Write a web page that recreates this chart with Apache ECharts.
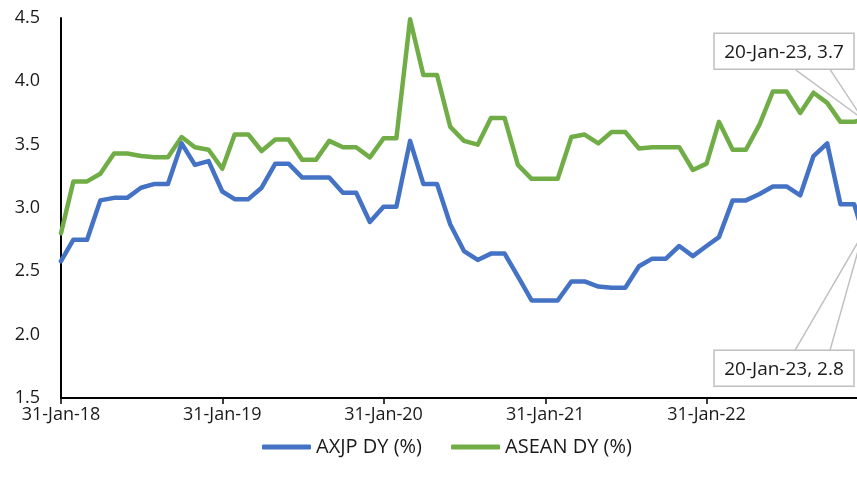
<!DOCTYPE html>
<html>
<head>
<meta charset="utf-8">
<title>AXJP vs ASEAN dividend yield</title>
<script src="https://cdn.jsdelivr.net/npm/echarts@6/dist/echarts.min.js"></script>
<style>
  html, body { margin: 0; padding: 0; background: #ffffff; }
  #chart { width: 857px; height: 486px; }
</style>
</head>
<body>
<div id="chart"></div>
<script>
// Month-end observation dates, Jan-2018 to Dec-2022, plus the latest reading.
const firstYear = 2018;
const lastYear = 2022;
const latestDate = Date.UTC(2023, 0, 20);
const dates = [];
for (let y = firstYear; y <= lastYear; y++) {
  for (let m = 1; m <= 12; m++) dates.push(Date.UTC(y, m, 0));
}
dates.push(latestDate);

// Dividend yield, %
const axjpDY = [
  2.58, 2.75, 2.75, 3.06, 3.08, 3.08, 3.16, 3.19, 3.19, 3.51, 3.34, 3.37,
  3.13, 3.07, 3.07, 3.16, 3.35, 3.35, 3.24, 3.24, 3.24, 3.12, 3.12, 2.89,
  3.01, 3.01, 3.53, 3.19, 3.19, 2.87, 2.66, 2.59, 2.64, 2.64, 2.46, 2.27,
  2.27, 2.27, 2.42, 2.42, 2.38, 2.37, 2.37, 2.54, 2.60, 2.60, 2.70, 2.62,
  2.70, 2.77, 3.06, 3.06, 3.11, 3.17, 3.17, 3.10, 3.41, 3.51, 3.03, 3.03,
  2.8
];
const aseanDY = [
  2.80, 3.21, 3.21, 3.27, 3.43, 3.43, 3.41, 3.40, 3.40, 3.56, 3.48, 3.46,
  3.31, 3.58, 3.58, 3.45, 3.54, 3.54, 3.38, 3.38, 3.53, 3.48, 3.48, 3.40,
  3.55, 3.55, 4.49, 4.05, 4.05, 3.64, 3.53, 3.50, 3.71, 3.71, 3.34, 3.23,
  3.23, 3.23, 3.56, 3.58, 3.51, 3.60, 3.60, 3.47, 3.48, 3.48, 3.48, 3.30,
  3.35, 3.68, 3.46, 3.46, 3.66, 3.92, 3.92, 3.75, 3.91, 3.83, 3.68, 3.68,
  3.7
];

const seriesNames = ['AXJP DY (%)', 'ASEAN DY (%)'];
const seriesColors = ['#4472C4', '#70AD47'];

// Axis ticks on each 31 January
const tickDates = [2018, 2019, 2020, 2021, 2022].map(y => Date.UTC(y, 0, 31));
const yMin = 1.5, yMax = 4.5, yStep = 0.5;

const monthNames = ['Jan','Feb','Mar','Apr','May','Jun','Jul','Aug','Sep','Oct','Nov','Dec'];
function fmtDate(t) {
  const d = new Date(t);
  return d.getUTCDate() + '-' + monthNames[d.getUTCMonth()] + '-' + String(d.getUTCFullYear()).slice(2);
}

const FONT = '"Open Sans", "Noto Sans", sans-serif';
const TEXT = '#1a1a1a';

// Callouts for the latest reading of each series: [date, value, side]
const lastIdx = dates.length - 1;
const callouts = [
  [dates[lastIdx], aseanDY[lastIdx], 'above'],
  [dates[lastIdx], axjpDY[lastIdx], 'below']
];

function renderCallout(params, api) {
  const p = api.coord([api.value(0), api.value(1)]);
  const side = callouts[params.dataIndex][2];
  const w = 140, h = 36;
  const bx = p[0] - 149;
  const by = side === 'above' ? p[1] - 86 : p[1] + 117;
  const ey = side === 'above' ? by + h : by;
  const text = fmtDate(api.value(0)) + ', ' + api.value(1).toFixed(1);
  const lineStyle = { stroke: '#c0c0c0', lineWidth: 1.5, fill: null };
  return {
    type: 'group',
    children: [
      { type: 'line', shape: { x1: bx + 81, y1: ey, x2: p[0], y2: p[1] }, style: lineStyle },
      { type: 'line', shape: { x1: bx + 116, y1: ey, x2: p[0], y2: p[1] }, style: lineStyle },
      { type: 'rect', shape: { x: bx, y: by, width: w, height: h },
        style: { fill: '#ffffff', stroke: '#c0c0c0', lineWidth: 1.5 } },
      { type: 'text', x: bx + w / 2, y: by + h / 2 + 1,
        style: { text: text, fill: TEXT, font: '19px ' + FONT, align: 'center', verticalAlign: 'middle' } }
    ]
  };
}

const chart = echarts.init(document.getElementById('chart'), null, { renderer: 'canvas' });
chart.setOption({
  animation: false,
  backgroundColor: '#ffffff',
  textStyle: { fontFamily: FONT, color: TEXT },
  grid: { left: 61, right: -6, top: 18, bottom: 88, outerBoundsMode: 'none', containLabel: false },
  legend: {
    data: seriesNames,
    bottom: 29,
    left: 262,
    padding: 0,
    icon: 'roundRect',
    itemWidth: 49,
    itemHeight: 5,
    itemGap: 29,
    textStyle: { fontSize: 20, color: TEXT, fontFamily: FONT }
  },
  xAxis: {
    type: 'value',
    min: dates[0],
    max: latestDate,
    axisLine: { show: true, onZero: false, lineStyle: { color: '#000000', width: 2 } },
    axisTick: { show: true, customValues: tickDates, length: 6, lineStyle: { color: '#000000', width: 1.5 } },
    axisLabel: {
      customValues: tickDates,
      formatter: v => fmtDate(v),
      fontSize: 18, color: TEXT, fontFamily: FONT, margin: 8,
      showMinLabel: true, showMaxLabel: true
    },
    splitLine: { show: false }
  },
  yAxis: {
    type: 'value',
    min: yMin, max: yMax, interval: yStep,
    axisLine: { show: true, lineStyle: { color: '#000000', width: 2 } },
    axisTick: { show: false },
    axisLabel: { formatter: v => v.toFixed(1), fontSize: 18, color: TEXT, fontFamily: FONT, margin: 21 },
    splitLine: { show: false }
  },
  series: [
    {
      name: seriesNames[0], type: 'line', showSymbol: false, symbol: 'none',
      data: dates.map((d, i) => [d, axjpDY[i]]),
      lineStyle: { color: seriesColors[0], width: 4.5, cap: 'round', join: 'round' },
      itemStyle: { color: seriesColors[0] }, z: 3
    },
    {
      name: seriesNames[1], type: 'line', showSymbol: false, symbol: 'none',
      data: dates.map((d, i) => [d, aseanDY[i]]),
      lineStyle: { color: seriesColors[1], width: 4.5, cap: 'round', join: 'round' },
      itemStyle: { color: seriesColors[1] }, z: 2
    },
    {
      name: 'callouts', type: 'custom', renderItem: renderCallout,
      data: callouts.map(c => [c[0], c[1]]), clip: false, z: 5, silent: true
    }
  ]
});
</script>
</body>
</html>
